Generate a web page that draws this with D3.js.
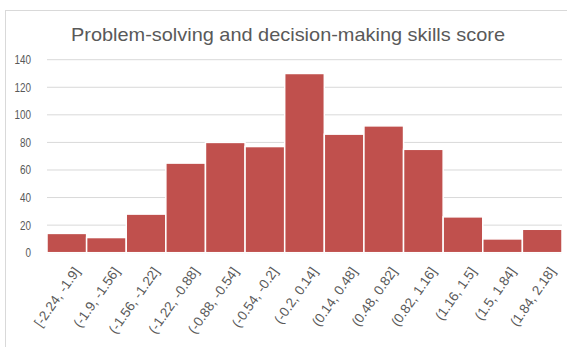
<!DOCTYPE html>
<html>
<head>
<meta charset="utf-8">
<script src="https://cdn.jsdelivr.net/npm/d3@7"></script>
<style>
  body { margin: 0; background: #fff; }
  text { font-family: "Liberation Sans", Arial, sans-serif; fill: #595959; }
</style>
</head>
<body>
<div id="chart"></div>
<script>
var bins = ["[-2.24, -1.9]", "(-1.9, -1.56]", "(-1.56, -1.22]", "(-1.22, -0.88]", "(-0.88, -0.54]",
    "(-0.54, -0.2]", "(-0.2, 0.14]", "(0.14, 0.48]", "(0.48, 0.82]", "(0.82, 1.16]",
    "(1.16, 1.5]", "(1.5, 1.84]", "(1.84, 2.18]"];
var counts = [14, 11, 28, 65, 80, 77, 130, 86, 92, 75, 26, 10, 17];
var yTicks = [0, 20, 40, 60, 80, 100, 120, 140];
var title = "Problem-solving and decision-making skills score";

function init() {
    var width = 567, height = 347;
    var margin = { top: 59.7, right: 5, bottom: 94.3, left: 47 };
    var w = width - margin.left - margin.right;
    var h = height - margin.top - margin.bottom;

    var svg = d3.select("#chart")
        .append("svg")
        .attr("width", width)
        .attr("height", height);

    // chart frame
    svg.append("rect")
        .attr("x", 5.5).attr("y", 10.5)
        .attr("width", 700).attr("height", 500)
        .attr("fill", "none")
        .attr("stroke", "#d9d9d9");

    svg.append("text")
        .attr("x", 288).attr("y", 41)
        .attr("text-anchor", "middle")
        .attr("font-size", 19)
        .attr("textLength", 434)
        .attr("lengthAdjust", "spacingAndGlyphs")
        .text(title);

    var g = svg.append("g")
        .attr("transform", "translate(" + margin.left + "," + margin.top + ")");

    var x = d3.scaleBand().domain(bins).range([0, w]).padding(0);
    var y = d3.scaleLinear().domain([0, 140]).range([h, 0]);

    // grid
    g.append("g")
        .selectAll("line")
        .data(yTicks)
        .enter()
        .append("line")
        .attr("x1", 0).attr("x2", w)
        .attr("y1", function (d) { return y(d); })
        .attr("y2", function (d) { return y(d); })
        .attr("stroke", "#d9d9d9")
        .attr("stroke-width", 1);

    var yAxis = g.append("g")
        .call(d3.axisLeft(y).tickValues(yTicks).tickSize(0).tickPadding(16));
    yAxis.select(".domain").remove();
    yAxis.selectAll("text")
        .attr("font-size", 12.5)
        .style("font-family", "'Liberation Sans', Arial, sans-serif")
        .attr("fill", "#595959")
        .attr("textLength", function (d) { return String(d).length * 5.5; })
        .attr("lengthAdjust", "spacingAndGlyphs");

    g.append("g")
        .selectAll("rect")
        .data(counts)
        .enter()
        .append("rect")
        .attr("x", function (d, i) { return x(bins[i]); })
        .attr("y", function (d) { return y(d); })
        .attr("width", x.bandwidth())
        .attr("height", function (d) { return h - y(d); })
        .attr("fill", "#c0504d")
        .attr("stroke", "#fff")
        .attr("stroke-width", 1.5);

    var xAxis = g.append("g")
        .attr("transform", "translate(0," + h + ")")
        .call(d3.axisBottom(x).tickSize(0).tickPadding(0));
    xAxis.select(".domain").remove();
    xAxis.selectAll("text")
        .attr("font-size", 13.5)
        .style("font-family", "'Liberation Sans', Arial, sans-serif")
        .attr("fill", "#595959")
        .attr("text-anchor", "end")
        .attr("dy", "0.35em")
        .attr("transform", "translate(10,16) rotate(-55)");
}

window.onload = init;
</script>
</body>
</html>
